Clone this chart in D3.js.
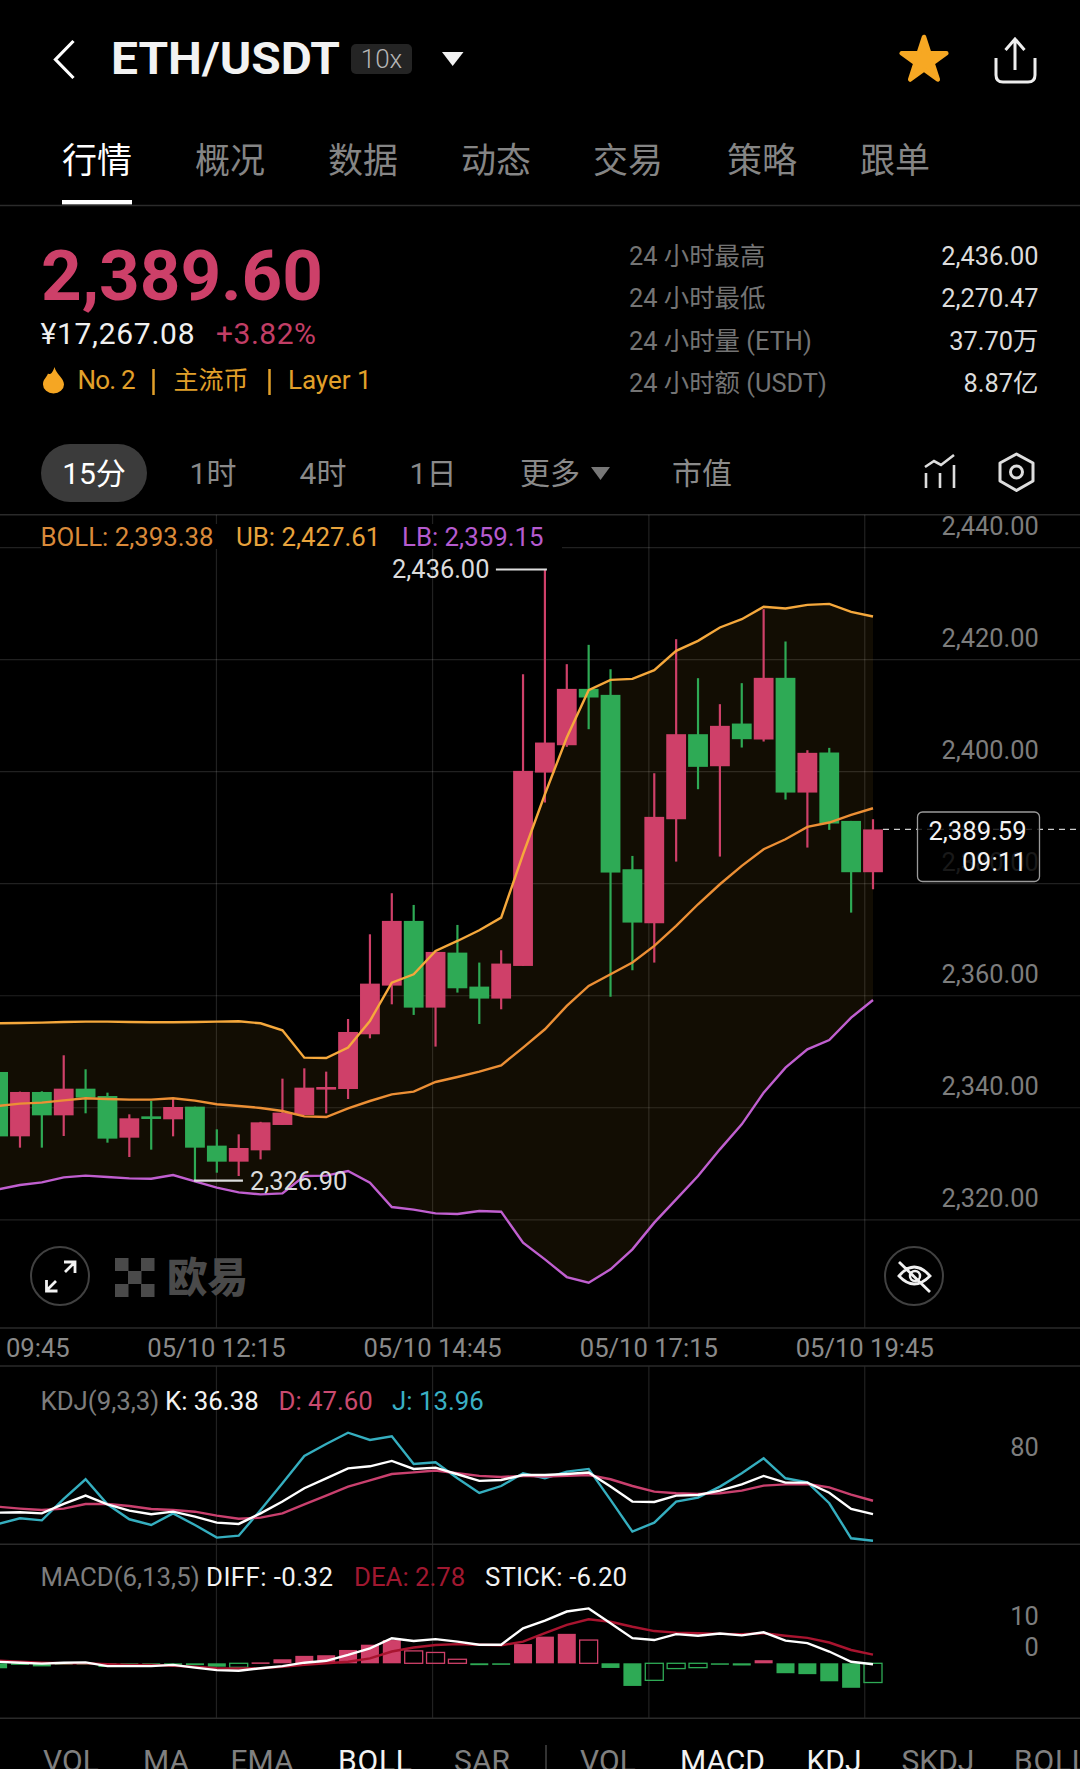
<!DOCTYPE html>
<html><head><meta charset="utf-8">
<script src="https://cdn.jsdelivr.net/npm/d3@7/dist/d3.min.js"></script>
<style>
html,body{margin:0;padding:0;background:#000;overflow:hidden}
svg{display:block}
text{font-family:Roboto,"Noto Sans CJK SC",sans-serif}
</style></head><body>
<script>
const opens=[2346.3,2334.81,2342.73,2338.56,2343.32,2342.01,2334.57,2338.38,2337.85,2340.11,2333.15,2330.29,2332.31,2336.84,2338.62,2343.15,2343.26,2353.03,2361.72,2373.27,2357.79,2367.61,2361.54,2359.4,2365.23,2399.75,2404.63,2414.69,2413.62,2382.49,2372.85,2391.42,2406.6,2400.88,2408.5,2405.65,2416.66,2396.18,2403.33,2391.12,2381.96];
const closes=[2334.8,2342.73,2338.56,2343.32,2341.72,2334.4,2338.03,2337.91,2340.05,2332.79,2330.29,2332.73,2337.31,2339.04,2343.5,2343.62,2353.44,2362.07,2373.27,2357.79,2367.73,2361.24,2359.4,2365.65,2400.05,2405.11,2414.69,2413.15,2381.9,2372.97,2391.84,2406.6,2400.77,2408.09,2405.71,2416.66,2396.18,2403.27,2390.65,2381.96,2389.6];
const highs=[2346.3,2342.8,2342.85,2349.28,2346.78,2342.61,2338.74,2341.12,2341.72,2340.11,2336.06,2335.17,2337.4,2345.11,2346.95,2346.36,2355.76,2370.88,2378.21,2376.12,2367.73,2372.55,2365.83,2368.03,2417.31,2436,2419.1,2422.55,2418.21,2384.87,2399.63,2423.56,2416.6,2411.96,2415.71,2428.92,2423.15,2403.74,2404.16,2391.12,2391.42];
const lows=[2334.8,2332.79,2332.79,2334.87,2338.92,2333.68,2331.12,2332.43,2334.81,2326.9,2328.32,2327.73,2330.7,2336.84,2338.62,2338.92,2341.48,2352.31,2358.38,2356.48,2350.83,2360.47,2354.87,2357.49,2365.23,2394.4,2404.34,2407.49,2359.75,2364.46,2365.83,2383.86,2396.78,2384.75,2404.22,2405.29,2394.93,2386.36,2389.52,2374.75,2378.92];
const bollUB=[2354.99,2355.05,2355.11,2355.23,2355.29,2355.29,2355.23,2355.17,2355.17,2355.23,2355.29,2355.35,2354.99,2353.74,2348.86,2348.8,2350.65,2355.41,2362.25,2363.74,2367.91,2369.69,2371.6,2373.86,2385.17,2395.88,2406,2414.46,2416.3,2416.48,2418.03,2421.48,2423.27,2425.65,2427.13,2429.34,2429.04,2429.69,2429.87,2428.44,2427.61];
const bollMid=[2340.23,2340.65,2340.82,2341.24,2341.6,2341.48,2341.36,2341.36,2341.6,2341.18,2340.53,2340.23,2339.87,2339.34,2338.38,2338.26,2339.81,2341.12,2342.31,2342.79,2344.51,2345.41,2346.36,2347.49,2350.65,2353.92,2358.09,2361.66,2363.74,2365.83,2368.8,2372.37,2376.24,2379.81,2383.09,2386.06,2387.85,2390.05,2390.83,2392.19,2393.38];
const bollLB=[2325.35,2326.12,2326.6,2327.49,2327.79,2327.55,2327.31,2327.25,2327.91,2326.78,2325.65,2324.81,2324.45,2324.63,2327.73,2327.79,2328.62,2326.54,2322.19,2321.72,2321.06,2320.94,2321.48,2321.36,2315.82,2312.85,2309.69,2308.68,2311.06,2314.63,2319.4,2323.56,2327.73,2332.49,2336.95,2342.61,2347.07,2350.35,2352.01,2356,2359.15];
const kdjK=[37.6,37.9,37.0,44.9,51.9,44.6,39.3,36.2,38.4,34.2,29.2,28.1,37.0,46.9,58.1,66.5,74.9,76.6,81.1,74.4,75.5,69.9,64.3,65.1,69.3,69.3,70.1,71.3,59.5,46.9,46.6,51.9,52.5,56.1,61.4,68.5,62.9,62.9,54.4,40.7,36.38];
const kdjD=[42.6,41.0,39.8,41.0,44.9,44.9,43.2,40.7,39.8,38.4,35.1,32.5,33.4,37.0,44.6,51.9,59.5,64.8,70.1,71.5,73.0,70.7,68.5,67.6,68.5,67.9,68.5,69.3,65.7,60.0,55.3,53.9,53.3,53.9,56.1,60.3,61.4,61.7,58.9,52.7,47.6];
const kdjJ=[28.1,32.8,31.1,49.1,65.7,44.6,32.0,27.2,37.0,27.2,16.6,18.2,39.8,62.3,85.3,95.4,104.9,98.8,101.9,78.6,80.0,66.5,54.2,60.0,70.7,66.5,72.1,74.4,48.3,21.6,29.2,46.9,50.2,59.5,70.7,83.3,66.5,63.1,45.5,16.0,13.96];
const macdDiff=[0.5,0.2,-0.1,0.2,0.3,-0.9,-0.9,-0.9,-0.5,-1.4,-2.2,-2.4,-1.6,-0.9,0.2,0.8,2.7,4.8,8.1,7.2,7.8,7.0,6.0,6.0,11.3,13.8,16.7,17.7,12.9,8.1,7.5,9.4,8.9,9.6,9.0,10.0,7.3,6.5,3.8,0.5,-0.32];
const macdDea=[0.9,0.5,0.2,0,0,-0.3,-0.5,-0.5,-0.8,-1.1,-1.6,-1.7,-1.6,-1.1,-0.5,0,0.5,1.6,3.8,5.1,5.9,6.2,6.0,5.8,7.0,9.7,12.4,14.2,13.4,11.8,10.4,9.9,9.7,9.5,9.4,9.7,8.9,8.2,6.7,4.3,2.78];
const macdStick=[-1.6,-0.5,-1.0,-0.1,-0.1,-1.2,-0.2,-0.3,-0.3,-0.6,-1.1,-1.3,0.3,1.3,2.4,2.6,4.3,6.0,7.5,4.0,3.5,1.3,-0.6,-0.5,6.2,8.6,9.5,7.5,-1.5,-7.3,-5.5,-1.7,-1.4,-0.4,-0.7,1.0,-3.2,-3.5,-5.8,-7.9,-6.2];
const stickHollow=[11,19,20,21,27,30,31,32,40];
const priceTicks=[2320,2340,2360,2380,2400,2420,2440];
const timeTickIndex=[0.09,9.96,19.84,29.73,39.6];
const timeTickLabels=["05/10 09:45","05/10 12:15","05/10 14:45","05/10 17:15","05/10 19:45"];
const kdjTicks=[80];
const macdTicks=[0,10];
const navTabs=["行情","概况","数据","动态","交易","策略","跟单"];
const periods=["1时","4时","1日","更多","市值"];
const statLabels=["24 小时最高","24 小时最低","24 小时量 (ETH)","24 小时额 (USDT)"];
const statValues=["2,436.00","2,270.47","37.70万","8.87亿"];
const bottomTabs=["VOL","MA","EMA","BOLL","SAR","VOL","MACD","KDJ","SKDJ","BOLL"];
const bottomActive=[3,6,7];

const UP="#cf4069",DOWN="#2eaa55",GRID="rgba(255,255,255,.13)",GRAY="#7d7d7d";
const svg=d3.select("body").append("svg").attr("width",1080).attr("height",1769).attr("viewBox","0 0 1080 1769");
svg.append("rect").attr("width",1080).attr("height",1769).attr("fill","#000");

function T(x,cy,s,size,fill,anchor,weight){
  return svg.append("text").attr("x",x).attr("y",cy+size*0.36).text(s)
   .attr("font-size",size).attr("fill",fill).attr("text-anchor",anchor||"start").attr("font-weight",weight||400);
}
function H(y,x1,x2,c,w){svg.append("line").attr("x1",x1===undefined?0:x1).attr("x2",x2===undefined?1080:x2).attr("y1",y).attr("y2",y).attr("stroke",c||"#2a2a2a").attr("stroke-width",w||1.5);}

/* ---------- scales ---------- */
const idx=d3.range(opens.length);
const x=d3.scaleLinear().domain([0,40]).range([-1.9,873]);
const yP=d3.scaleLinear().domain([2320,2440]).range([1219.3,547.1]);
const yK=d3.scaleLinear().domain([0,100]).range([1557.3,1438.5]);
const yM=d3.scaleLinear().domain([0,10]).range([1663.3,1632.3]);

/* ---------- header ---------- */
svg.append("path").attr("d","M73.5 41 L55.5 59.5 L73.5 78").attr("fill","none").attr("stroke","#fff").attr("stroke-width",3.2);
T(111,58,"ETH/USDT",45,"#f2f2f2","start",700).attr("textLength",229).attr("lengthAdjust","spacingAndGlyphs");
svg.append("rect").attr("x",351).attr("y",44).attr("width",61).attr("height",30).attr("rx",5).attr("fill","#242424");
T(381.5,59,"10x",26,"#b5b5b5","middle",300);
svg.append("path").attr("d","M442 52 L463.5 52 L452.7 66 Z").attr("fill","#f2f2f2");
svg.append("path").attr("d",d3.symbol(d3.symbolStar,23.5*23.5/0.8908)()).attr("transform","translate(924,60.5)")
  .attr("fill","#f7a823").attr("stroke","#f7a823").attr("stroke-width",4.5).attr("stroke-linejoin","round");
svg.append("path").attr("d","M996 58 V75 Q996 82 1003 82 H1028 Q1035 82 1035 75 V58 M1015 40 V70 M1005.5 50 L1015 39 L1024.5 50")
  .attr("fill","none").attr("stroke","#eee").attr("stroke-width",3);

/* ---------- nav tabs ---------- */
const navX=[97,230,363,496,628,762,895];
navTabs.forEach((t,i)=>T(navX[i],160,t,35,i==0?"#fff":"#858585","middle",400));
svg.append("rect").attr("x",62).attr("y",200).attr("width",70).attr("height",4.5).attr("fill","#fff");
H(205.5,0,1080,"#2b2b2b",1.5);

/* ---------- price block ---------- */
T(41,274,"2,389.60",71,"#cd4069","start",700).attr("textLength",282);
T(40.5,333,"¥17,267.08",30,"#f0f0f0").attr("textLength",154);
T(216,333,"+3.82%",30,"#c23e66").attr("textLength",100);
svg.append("path").attr("d","M54.5 367 C56 374 64 378 64 384.5 A10.5 9 0 0 1 43 384.5 C43 379 46.5 378 48 373.5 C50.5 375.5 53 372 54.5 367 Z").attr("fill","#f5a623");
const TAG="#e2a02a";
T(77.5,380,"No. 2",26,TAG).attr("textLength",58);
T(173.5,380,"主流币",25,TAG);
T(288,380,"Layer 1",26,TAG).attr("textLength",83.5);
[153.5,269.5].forEach(px=>svg.append("line").attr("x1",px).attr("x2",px).attr("y1",369).attr("y2",395).attr("stroke",TAG).attr("stroke-width",2.5));
const statY=[256,298,341,383];
statLabels.forEach((t,i)=>T(629,statY[i],t,25.4,"#747474"));
statValues.forEach((t,i)=>T(1038.5,statY[i],t,25.4,"#dcdcdc","end"));

/* ---------- period row ---------- */
svg.append("rect").attr("x",41).attr("y",444).attr("width",106).attr("height",58).attr("rx",29).attr("fill","#3b3b3b");
T(94,473,"15分",30,"#fff","middle");
const perX=[213,323,433,550,702];
periods.forEach((t,i)=>T(perX[i],473,t,30,"#8a8a8a","middle"));
svg.append("path").attr("d","M591 467 H610 L600.5 480 Z").attr("fill","#777");
svg.append("path").attr("d","M925 467 L934 461 L941 465 L954 455 M926 473 V488 M940 473 V488 M954 465 V488").attr("fill","none").attr("stroke","#ddd").attr("stroke-width",2.6);
svg.append("path").attr("d","M1016.5 454 L1033 463 V481 L1016.5 490.5 L1000 481 V463 Z").attr("fill","none").attr("stroke","#ddd").attr("stroke-width",3).attr("stroke-linejoin","round");
svg.append("circle").attr("cx",1016.5).attr("cy",472).attr("r",6).attr("fill","none").attr("stroke","#ddd").attr("stroke-width",3);

/* ---------- grid ---------- */
H(514.7,0,1080,"#2a2a2a");
svg.append("g").attr("transform","translate(1080,0)")
  .call(d3.axisLeft(yP).tickValues(priceTicks).tickSize(1080).tickFormat(""))
  .call(g=>{g.select(".domain").remove();g.selectAll("text").remove();g.selectAll("line").attr("stroke",GRID).attr("stroke-width",1.2);});
function vGrid(y1,y2){
  svg.append("g").attr("transform",`translate(0,${y2})`)
    .call(d3.axisBottom(x).tickValues(timeTickIndex.slice(1)).tickSize(-(y2-y1)).tickFormat(""))
    .call(g=>{g.select(".domain").remove();g.selectAll("text").remove();g.selectAll("line").attr("stroke",GRID).attr("stroke-width",1.2);});
}
vGrid(514.7,1328);vGrid(1366,1544);vGrid(1544,1718);
H(1328);H(1366);H(1544.3);H(1718.3);

/* ---------- BOLL band ---------- */
svg.append("path").attr("d",d3.area().x(i=>x(i)).y0(i=>yP(bollLB[i])).y1(i=>yP(bollUB[i]))(idx)).attr("fill","#f7a823").attr("fill-opacity",.075);

/* ---------- watermark + round buttons ---------- */
[[60,1276],[914,1276]].forEach(c=>svg.append("circle").attr("cx",c[0]).attr("cy",c[1]).attr("r",29).attr("fill","none").attr("stroke","#414141").attr("stroke-width",2));
svg.append("path").attr("d","M47 1290 L56 1281 M65 1272 L74.5 1262.5 M46.5 1280 V1291 H57.5 M64 1262 H75 V1273").attr("fill","none").attr("stroke","#f2f2f2").attr("stroke-width",2.8);
svg.append("path").attr("d","M899 1276 Q914 1258 930 1276 Q914 1292 899 1276 Z M899 1262 L930 1292").attr("fill","none").attr("stroke","#f0f0f0").attr("stroke-width",2.8);
svg.append("circle").attr("cx",915).attr("cy",1276).attr("r",5).attr("fill","none").attr("stroke","#f0f0f0").attr("stroke-width",2.5);
[[115,1258],[141,1258],[128,1271],[115,1284],[141,1284]].forEach(p=>svg.append("rect").attr("x",p[0]).attr("y",p[1]).attr("width",13.5).attr("height",13).attr("fill","#4a4a4a"));
T(207.5,1277,"欧易",40.5,"#4a4a4a","middle",900);

/* ---------- candles ---------- */
const cg=svg.append("g");
cg.selectAll("line").data(idx).join("line")
  .attr("x1",i=>x(i)).attr("x2",i=>x(i)).attr("y1",i=>yP(highs[i])).attr("y2",i=>yP(lows[i]))
  .attr("stroke",i=>closes[i]>=opens[i]?UP:DOWN).attr("stroke-width",2.2);
cg.selectAll("rect").data(idx).join("rect")
  .attr("x",i=>x(i)-9.9).attr("width",19.8)
  .attr("y",i=>yP(Math.max(opens[i],closes[i])))
  .attr("height",i=>Math.max(2.5,Math.abs(yP(opens[i])-yP(closes[i]))))
  .attr("fill",i=>closes[i]>=opens[i]?UP:DOWN);

/* ---------- BOLL lines ---------- */
const lineP=d3.line().x(i=>x(i));
[[bollLB,"#c05fd0"],[bollMid,"#ec8f35"],[bollUB,"#f5a83c"]].forEach(s=>{
  svg.append("path").attr("d",lineP.y(i=>yP(s[0][i]))(idx)).attr("fill","none").attr("stroke",s[1]).attr("stroke-width",2.4);
});

/* ---------- price axis labels ---------- */
svg.append("g").attr("transform","translate(1038.7,-20.8)")
  .call(d3.axisLeft(yP).tickValues(priceTicks).tickSize(0).tickPadding(0).tickFormat(d3.format(",.2f")))
  .call(g=>{g.select(".domain").remove();g.selectAll("text").attr("font-size",25.4).attr("fill",GRAY).attr("font-family",'Roboto,sans-serif');});

/* ---------- legend strip ---------- */
svg.append("rect").attr("x",41).attr("y",524).attr("width",521).attr("height",25).attr("fill","#000");
T(40.5,537,"BOLL: 2,393.38",25.8,"#d98a3a");
T(236,537,"UB: 2,427.61",25.8,"#e8a33c");
T(402,537,"LB: 2,359.15",25.8,"#b55bcf");

/* ---------- hi / lo markers ---------- */
const iHi=highs.indexOf(d3.max(highs)),iLo=lows.indexOf(d3.min(lows));
svg.append("line").attr("x1",x(iHi)+2).attr("x2",x(iHi)-49).attr("y1",yP(highs[iHi])).attr("y2",yP(highs[iHi])).attr("stroke","#ddd").attr("stroke-width",2.2);
T(x(iHi)-55.5,yP(highs[iHi])-0.8,d3.format(",.2f")(highs[iHi]),25.4,"#dcdcdc","end");
svg.append("line").attr("x1",x(iLo)-1).attr("x2",x(iLo)+48).attr("y1",yP(lows[iLo])).attr("y2",yP(lows[iLo])).attr("stroke","#ddd").attr("stroke-width",2.2);
T(x(iLo)+55,yP(lows[iLo])+0.5,d3.format(",.2f")(lows[iLo]),25.4,"#dcdcdc");

/* ---------- last price ---------- */
const last=closes[40];
svg.append("line").attr("x1",x(40)+10).attr("x2",1080).attr("y1",yP(last)).attr("y2",yP(last)).attr("stroke","#ccc").attr("stroke-width",1.2).attr("stroke-dasharray","6 5");
svg.append("rect").attr("x",917.5).attr("y",812).attr("width",122).attr("height",69.5).attr("rx",5).attr("fill","#000").attr("fill-opacity",.8).attr("stroke","#9a9a9a").attr("stroke-width",1.3);
T(977.5,830.7,"2,389.59",25.6,"#f2f2f2","middle");
T(1027,861.7,"09:11",25.6,"#f2f2f2","end").attr("textLength",65);

/* ---------- time axis ---------- */
svg.append("g").attr("transform","translate(0,1348)")
  .call(d3.axisBottom(x).tickValues(timeTickIndex).tickSize(0).tickPadding(0).tickFormat((d,i)=>timeTickLabels[i]))
  .call(g=>{g.select(".domain").remove();g.selectAll("text").attr("dy",null).attr("y",9).attr("font-size",25.6).attr("fill","#8a8a8a").attr("font-family",'Roboto,sans-serif');});

/* ---------- KDJ ---------- */
T(40.5,1401,"KDJ(9,3,3)",25.8,GRAY);T(165,1401,"K: 36.38",25.8,"#f2f2f2");T(278.5,1401,"D: 47.60",25.8,"#c94a6f");T(392,1401,"J: 13.96",25.8,"#3ab0c4");
const lineK=d3.line().x(i=>x(i));
[[kdjJ,"#35aebf"],[kdjD,"#c9406e"],[kdjK,"#fff"]].forEach(s=>svg.append("path").attr("d",lineK.y(i=>yK(s[0][i]))(idx)).attr("fill","none").attr("stroke",s[1]).attr("stroke-width",2.4));
svg.append("g").attr("transform","translate(1038.7,-14.5)")
  .call(d3.axisLeft(yK).tickValues(kdjTicks).tickSize(0).tickPadding(0))
  .call(g=>{g.select(".domain").remove();g.selectAll("text").attr("font-size",25.4).attr("fill",GRAY).attr("font-family",'Roboto,sans-serif');});

/* ---------- MACD ---------- */
T(40.5,1577,"MACD(6,13,5)",25.8,GRAY);
T(206,1577,"DIFF: -0.32",25.8,"#f2f2f2").attr("textLength",127);
T(354,1577,"DEA: 2.78",25.8,"#a01830");
T(485,1577,"STICK: -6.20",25.8,"#f2f2f2").attr("textLength",142);
const barFill=i=>macdStick[i]>=0?UP:DOWN;
svg.append("g").selectAll("rect").data(idx).join("rect")
  .attr("x",i=>x(i)-9).attr("width",18)
  .attr("y",i=>Math.min(yM(0),yM(macdStick[i])))
  .attr("height",i=>Math.max(1.5,Math.abs(yM(macdStick[i])-yM(0))))
  .attr("fill",i=>stickHollow.includes(i)?"#000":barFill(i))
  .attr("fill-opacity",i=>stickHollow.includes(i)?0:1)
  .attr("stroke",barFill).attr("stroke-width",i=>stickHollow.includes(i)?1.3:0);
[[macdDea,"#a8142f"],[macdDiff,"#fff"]].forEach(s=>svg.append("path").attr("d",d3.line().x(i=>x(i)).y(i=>yM(s[0][i]))(idx)).attr("fill","none").attr("stroke",s[1]).attr("stroke-width",2.4));
svg.append("g").attr("transform","translate(1038.7,-15.5)")
  .call(d3.axisLeft(yM).tickValues(macdTicks).tickSize(0).tickPadding(0))
  .call(g=>{g.select(".domain").remove();g.selectAll("text").attr("font-size",25.4).attr("fill",GRAY).attr("font-family",'Roboto,sans-serif');});

/* ---------- bottom tabs ---------- */
const btX=[71,166,262,375,482,608,722.5,834,938,1051];
bottomTabs.forEach((t,i)=>{
  const el=svg.append("text").attr("x",btX[i]).attr("y",1771).attr("text-anchor","middle").attr("font-size",30).attr("fill",bottomActive.includes(i)?"#f2f2f2":"#808080").text(t);
  if(t==="BOLL")el.attr("textLength",74);
  if(t==="VOL")el.attr("textLength",56);
});
svg.append("line").attr("x1",546).attr("x2",546).attr("y1",1745).attr("y2",1769).attr("stroke","#444").attr("stroke-width",1.5);
</script>
</body></html>
